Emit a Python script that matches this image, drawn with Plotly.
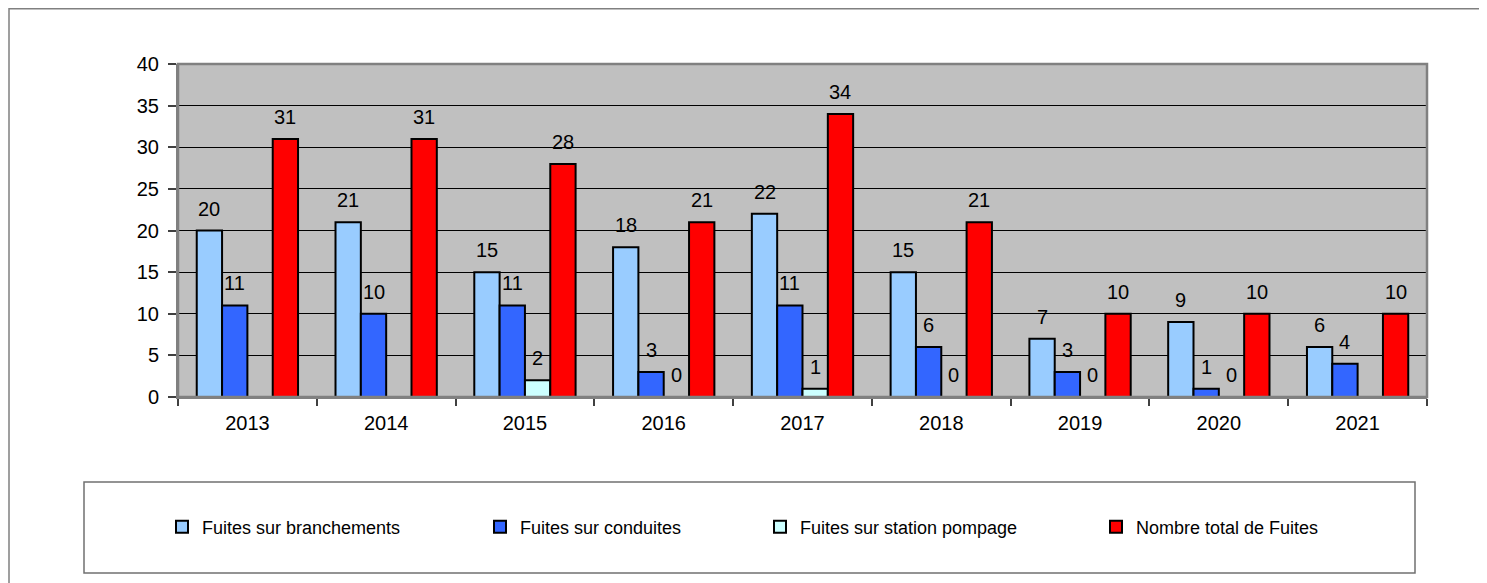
import plotly.graph_objects as go

years = ["2013", "2014", "2015", "2016", "2017", "2018", "2019", "2020", "2021"]
branchements = [20, 21, 15, 18, 22, 15, 7, 9, 6]
conduites = [11, 10, 11, 3, 11, 6, 3, 1, 4]
station = [None, None, 2, 0, 1, 0, 0, 0, None]
total = [31, 31, 28, 21, 34, 21, 10, 10, 10]

names = ["Fuites sur branchements", "Fuites sur conduites",
         "Fuites sur station pompage", "Nombre total de Fuites"]
colors = ["#99CCFF", "#3366FF", "#CCFFFF", "#FF0000"]
series = [branchements, conduites, station, total]

# page body has an 8px margin: size the figure to fit the window exactly
OFF = 8
W, H = 1487 - OFF, 583 - OFF
FONT = "Arial, Liberation Sans, sans-serif"
LABEL_SIZE = 20


def xp(px):
    return (px - OFF) / W


def yp(py):
    return 1 - (py - OFF) / H


BARGAP = 0.27
bw = (1 - BARGAP) / 4

fig = go.Figure()
legend_ids = ["legend", "legend2", "legend3", "legend4"]
for k, (name, col, vals) in enumerate(zip(names, colors, series)):
    fig.add_trace(go.Bar(
        x=years, y=vals, name=name,
        marker=dict(color=col, line=dict(color="black", width=2)),
        legend=legend_ids[k],
    ))

annotations = []
for k, vals in enumerate(series):
    for i, v in enumerate(vals):
        if v is None:
            continue
        annotations.append(dict(
            x=i + (k - 1.5) * bw, y=v, xref="x", yref="y",
            text=str(v), showarrow=False, yanchor="middle", xanchor="center",
            yshift=22, font=dict(family=FONT, size=LABEL_SIZE, color="black"),
        ))

shapes = [
    # outer chart frame
    dict(type="rect", xref="paper", yref="paper",
         x0=xp(9), x1=xp(1500), y0=yp(600), y1=yp(8.8),
         line=dict(color="#808080", width=1.5), layer="below"),
    # plot border
    dict(type="rect", xref="paper", yref="paper",
         x0=xp(178), x1=xp(1427), y0=yp(397), y1=yp(64),
         line=dict(color="#808080", width=2.5), layer="above"),
    # legend frame
    dict(type="rect", xref="paper", yref="paper",
         x0=xp(84), x1=xp(1415), y0=yp(573), y1=yp(482),
         line=dict(color="#707070", width=1.5), layer="below"),
]

legend_x = [162, 480, 760, 1096]
layout_legends = {}
for lid, lx in zip(legend_ids, legend_x):
    layout_legends[lid] = dict(
        x=xp(lx), y=yp(527), xanchor="left", yanchor="middle",
        orientation="h", bgcolor="rgba(0,0,0,0)", borderwidth=0,
        font=dict(family=FONT, size=18, color="black"),
        itemwidth=30, itemclick=False,
    )

fig.update_layout(
    width=W, height=H,
    margin=dict(l=0, r=0, t=0, b=0, autoexpand=False),
    paper_bgcolor="white", plot_bgcolor="#C0C0C0",
    barmode="group", bargap=BARGAP, bargroupgap=0,
    font=dict(family=FONT, size=18, color="black"),
    showlegend=True,
    annotations=annotations, shapes=shapes,
    xaxis=dict(
        type="category", domain=[xp(178), xp(1427)],
        tickson="boundaries", ticks="outside", ticklen=7, tickcolor="#404040",
        tickwidth=1.5, showline=True, linecolor="#808080", linewidth=2,
        showgrid=False, tickfont=dict(family=FONT, size=LABEL_SIZE, color="black"),
        automargin=False, ticklabelstandoff=7,
    ),
    yaxis=dict(
        domain=[yp(397), yp(64)], range=[0, 40], dtick=5,
        ticks="outside", ticklen=8, tickcolor="#404040", tickwidth=1.5,
        showline=True, linecolor="#808080", linewidth=2,
        showgrid=True, gridcolor="black", gridwidth=1, zeroline=False,
        tickfont=dict(family=FONT, size=LABEL_SIZE, color="black"),
        automargin=False, ticklabelstandoff=5,
    ),
    **layout_legends,
)

fig.write_html("out.html")
